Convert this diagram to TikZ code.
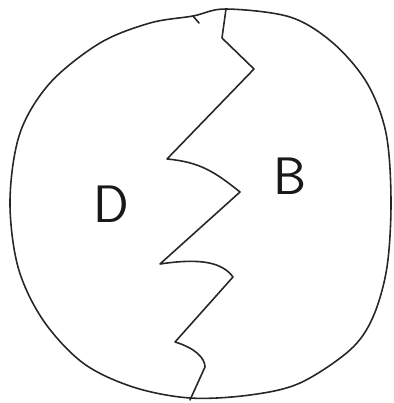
\documentclass[tikz,border=0pt]{standalone}
\usepackage{tikz}
\usetikzlibrary{positioning,calc}

\begin{document}
\begin{tikzpicture}[x=0.02cm,y=-0.02cm]
\tikzset{pen/.style={draw=black!85, line width=0.9pt, line join=round, line cap=round},
  letter/.style={font=\sffamily\fontsize{30}{30}\selectfont, text=black!90}}
\useasboundingbox (0,0) rectangle (393,403);

% Outline
\draw[pen] plot[smooth cycle, tension=0.55] coordinates {
  (226,9) (290,17) (333,43) (367,83) (386,133) (391,200) (387,267)
  (373,317) (350,350) (300,383) (250,395) (190,398) (133,387)
  (83,363) (43,320) (18,267) (10,200) (20,133) (50,83) (100,43)
  (150,23) (193,16)};
\draw[pen] (193,16) -- (199,23);

% Crack
\draw[pen] (226,9) -- (222,38) -- (254,69) -- (167,159)
  .. controls (200,162) and (215,172) .. (240,192)
  -- (160,264)
  .. controls (200,258) and (222,262) .. (233,277)
  -- (175,342)
  .. controls (195,348) and (205,358) .. (205,367)
  -- (190,400);

% Labels
\node[letter] (d) at (111,204) {D};
\node[letter] (b) at (290,176) {B};
\end{tikzpicture}
\end{document}
